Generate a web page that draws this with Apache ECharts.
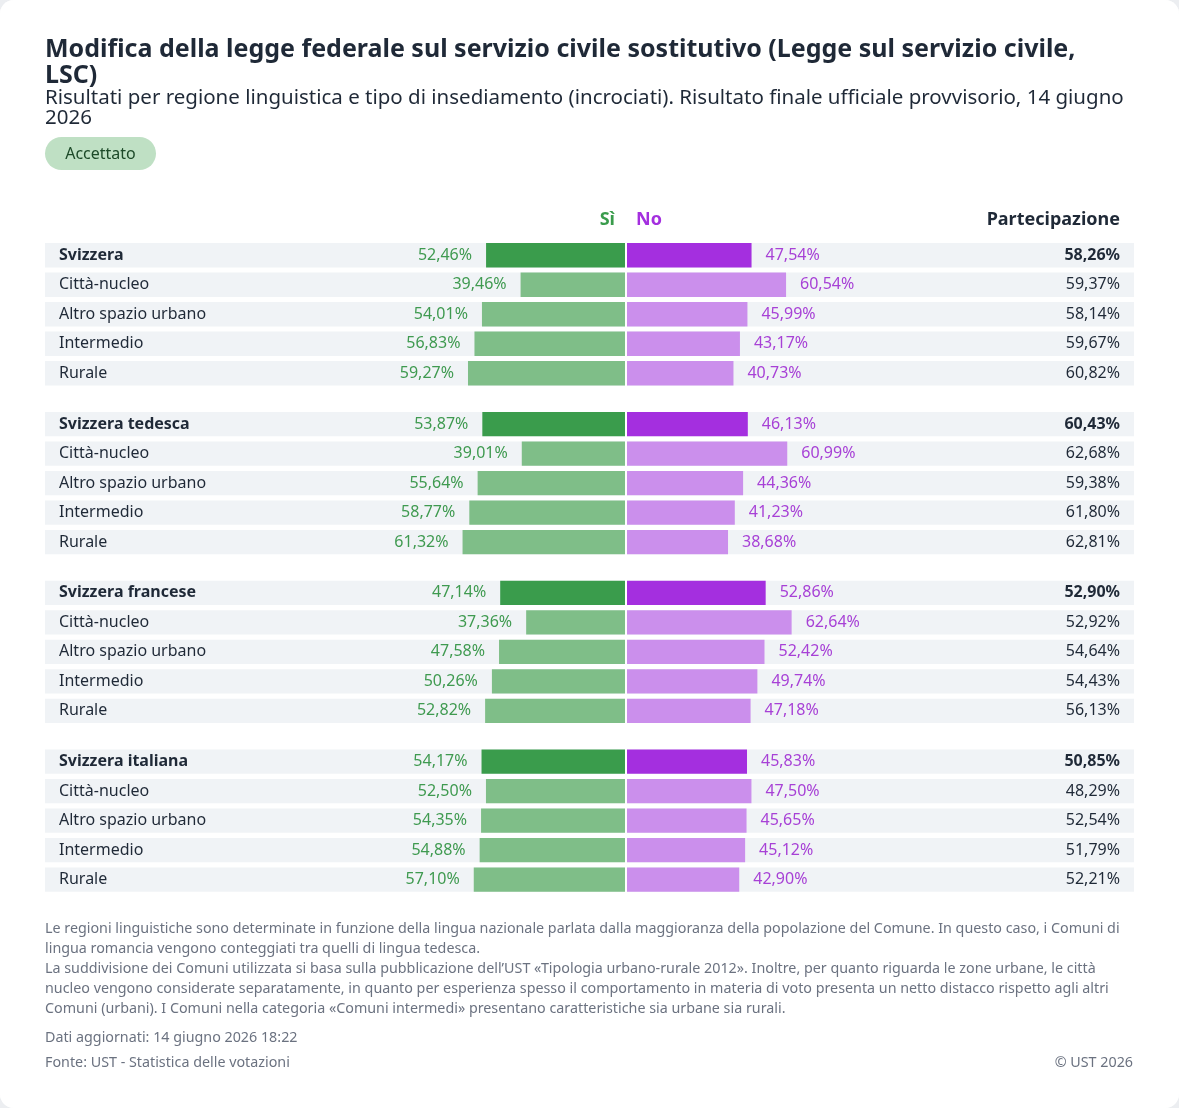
<!DOCTYPE html>
<html>
<head>
<meta charset="utf-8">
<script src="https://cdn.jsdelivr.net/npm/echarts@6/dist/echarts.min.js"></script>
<style>
  html, body { margin: 0; padding: 0; background: #eceef1; }
  #chart { width: 1179px; height: 1108px; background: #ffffff; border-radius: 14px; overflow: hidden; }
</style>
</head>
<body>
<div id="chart"></div>
<script>
// ---- Data ----
const groups = ['Svizzera', 'Svizzera tedesca', 'Svizzera francese', 'Svizzera italiana'];
const subcategories = ['Città-nucleo', 'Altro spazio urbano', 'Intermedio', 'Rurale'];
const yesSvizzera = [52.46, 39.46, 54.01, 56.83, 59.27];
const yesTedesca  = [53.87, 39.01, 55.64, 58.77, 61.32];
const yesFrancese = [47.14, 37.36, 47.58, 50.26, 52.82];
const yesItaliana = [54.17, 52.50, 54.35, 54.88, 57.10];
const noSvizzera  = [47.54, 60.54, 45.99, 43.17, 40.73];
const noTedesca   = [46.13, 60.99, 44.36, 41.23, 38.68];
const noFrancese  = [52.86, 62.64, 52.42, 49.74, 47.18];
const noItaliana  = [45.83, 47.50, 45.65, 45.12, 42.90];
const partSvizzera = [58.26, 59.37, 58.14, 59.67, 60.82];
const partTedesca  = [60.43, 62.68, 59.38, 61.80, 62.81];
const partFrancese = [52.90, 52.92, 54.64, 54.43, 56.13];
const partItaliana = [50.85, 48.29, 52.54, 51.79, 52.21];

const yesData = [yesSvizzera, yesTedesca, yesFrancese, yesItaliana];
const noData = [noSvizzera, noTedesca, noFrancese, noItaliana];
const partData = [partSvizzera, partTedesca, partFrancese, partItaliana];

const titleLines = ['Modifica della legge federale sul servizio civile sostitutivo (Legge sul servizio civile,', 'LSC)'];
const subtitleLines = ['Risultati per regione linguistica e tipo di insediamento (incrociati). Risultato finale ufficiale provvisorio, 14 giugno', '2026'];
const badgeText = 'Accettato';
const headerYes = 'Sì';
const headerNo = 'No';
const headerPart = 'Partecipazione';
const footnoteLines = [
  'Le regioni linguistiche sono determinate in funzione della lingua nazionale parlata dalla maggioranza della popolazione del Comune. In questo caso, i Comuni di',
  'lingua romancia vengono conteggiati tra quelli di lingua tedesca.',
  'La suddivisione dei Comuni utilizzata si basa sulla pubblicazione dell’UST «Tipologia urbano-rurale 2012». Inoltre, per quanto riguarda le zone urbane, le città',
  'nucleo vengono considerate separatamente, in quanto per esperienza spesso il comportamento in materia di voto presenta un netto distacco rispetto agli altri',
  'Comuni (urbani). I Comuni nella categoria «Comuni intermedi» presentano caratteristiche sia urbane sia rurali.'
];
const updatedText = 'Dati aggiornati: 14 giugno 2026 18:22';
const sourceText = 'Fonte: UST - Statistica delle votazioni';
const copyrightText = '© UST 2026';

// ---- Styles ----
const FONT = '"Noto Sans", "Open Sans", sans-serif';
const TEXT_DARK = '#1f2937';
const GREEN_DARK = '#3a9c4c';
const GREEN_LIGHT = '#7fbe88';
const PURPLE_DARK = '#a42fdf';
const PURPLE_LIGHT = '#cb8fec';
const GREEN_TEXT = '#3f9a50';
const PURPLE_TEXT = '#a741d6';
const ROW_BG = '#f0f3f6';
const FOOT = '#6b7280';
const BODY_SIZE = 16;
const FOOT_SIZE = 14.3;

const fmt = v => Math.abs(v).toFixed(2).replace('.', ',') + '%';

const GRID_LEFT = 45, GRID_RIGHT = 45;
const FIRST_TOP = 240.5, GROUP_STEP = 168.8, ROW_STEP = 29.5;
const X_MIN = -218.6, X_MAX = 191.6;

const grids = [], xAxes = [], yAxes = [], series = [];
groups.forEach((g, gi) => {
  const cats = [g].concat(subcategories);
  grids.push({ left: GRID_LEFT, right: GRID_RIGHT, top: FIRST_TOP + gi * GROUP_STEP, height: ROW_STEP * 5 });
  xAxes.push({ type: 'value', gridIndex: gi, min: X_MIN, max: X_MAX, show: false });
  yAxes.push({
    type: 'category', gridIndex: gi, data: cats, inverse: true, z: 10,
    axisLine: { show: false }, axisTick: { show: false }, splitLine: { show: false },
    axisLabel: {
      align: 'left', margin: -14, fontFamily: FONT, fontSize: BODY_SIZE, color: TEXT_DARK,
      formatter: (v, i) => i === 0 ? '{b|' + v + '}' : v,
      rich: { b: { fontWeight: 'bold', fontFamily: FONT, fontSize: BODY_SIZE, color: TEXT_DARK } }
    }
  });
  yAxes.push({
    type: 'category', gridIndex: gi, position: 'right', data: partData[gi].map(fmt), inverse: true, z: 10,
    axisLine: { show: false }, axisTick: { show: false }, splitLine: { show: false },
    axisLabel: {
      align: 'right', margin: -14, fontFamily: FONT, fontSize: BODY_SIZE, color: TEXT_DARK,
      formatter: (v, i) => i === 0 ? '{b|' + v + '}' : v,
      rich: { b: { fontWeight: 'bold', fontFamily: FONT, fontSize: BODY_SIZE, color: TEXT_DARK } }
    }
  });
  series.push({
    type: 'bar', xAxisIndex: gi, yAxisIndex: gi * 2, barWidth: 24.3, barGap: '-100%',
    data: yesData[gi].map(v => -v),
    showBackground: true, backgroundStyle: { color: ROW_BG },
    itemStyle: { color: p => p.dataIndex === 0 ? GREEN_DARK : GREEN_LIGHT },
    label: { show: true, position: 'left', distance: 14, fontFamily: FONT, fontSize: BODY_SIZE, color: GREEN_TEXT, formatter: p => fmt(p.value) },
    silent: true, animation: false
  });
  series.push({
    type: 'bar', xAxisIndex: gi, yAxisIndex: gi * 2, barWidth: 24.3, barGap: '-100%',
    data: noData[gi],
    itemStyle: { color: p => p.dataIndex === 0 ? PURPLE_DARK : PURPLE_LIGHT },
    label: { show: true, position: 'right', distance: 14, fontFamily: FONT, fontSize: BODY_SIZE, color: PURPLE_TEXT, formatter: p => fmt(p.value) },
    markLine: {
      silent: true, symbol: 'none', animation: false,
      label: { show: false },
      lineStyle: { color: '#ffffff', width: 2, type: 'solid' },
      data: [{ xAxis: 0 }]
    },
    silent: true, animation: false
  });
});

const graphic = [
  { type: 'rect', left: 45, top: 137, shape: { width: 111, height: 33, r: 16.5 }, style: { fill: '#bfe0c4' } },
  { type: 'text', x: 100.5, y: 154, style: { text: badgeText, fill: '#1d4a29', font: '16px ' + FONT, textAlign: 'center', textVerticalAlign: 'middle' } },
  { type: 'text', x: 615, y: 220, style: { text: headerYes, fill: GREEN_DARK, font: 'bold 18px ' + FONT, textAlign: 'right', textVerticalAlign: 'middle' } },
  { type: 'text', x: 636, y: 220, style: { text: headerNo, fill: PURPLE_DARK, font: 'bold 18px ' + FONT, textAlign: 'left', textVerticalAlign: 'middle' } },
  { type: 'text', x: 1120, y: 220, style: { text: headerPart, fill: TEXT_DARK, font: 'bold 18px ' + FONT, textAlign: 'right', textVerticalAlign: 'middle' } },
  { type: 'text', x: 45, y: 1038, style: { text: updatedText, fill: FOOT, font: FOOT_SIZE + 'px ' + FONT, textAlign: 'left', textVerticalAlign: 'middle' } },
  { type: 'text', x: 45, y: 1063, style: { text: sourceText, fill: FOOT, font: FOOT_SIZE + 'px ' + FONT, textAlign: 'left', textVerticalAlign: 'middle' } },
  { type: 'text', x: 1133, y: 1063, style: { text: copyrightText, fill: FOOT, font: FOOT_SIZE + 'px ' + FONT, textAlign: 'right', textVerticalAlign: 'middle' } }
];
footnoteLines.forEach((t, i) => {
  graphic.push({ type: 'text', x: 45, y: 928.5 + i * 20, style: { text: t, fill: FOOT, font: FOOT_SIZE + 'px ' + FONT, textAlign: 'left', textVerticalAlign: 'middle' } });
});

const chart = echarts.init(document.getElementById('chart'), null, { renderer: 'canvas' });
chart.setOption({
  backgroundColor: '#ffffff',
  animation: false,
  title: [
    {
      text: titleLines.join('\n'), left: 40, top: 32,
      textStyle: { fontFamily: FONT, fontSize: 25, fontWeight: 'bold', color: TEXT_DARK, lineHeight: 26 }
    },
    {
      text: subtitleLines.join('\n'), left: 40, top: 83,
      textStyle: { fontFamily: FONT, fontSize: 20.5, fontWeight: 'normal', color: TEXT_DARK, lineHeight: 20 }
    }
  ],
  grid: grids,
  xAxis: xAxes,
  yAxis: yAxes,
  series: series,
  graphic: graphic
});
</script>
</body>
</html>
